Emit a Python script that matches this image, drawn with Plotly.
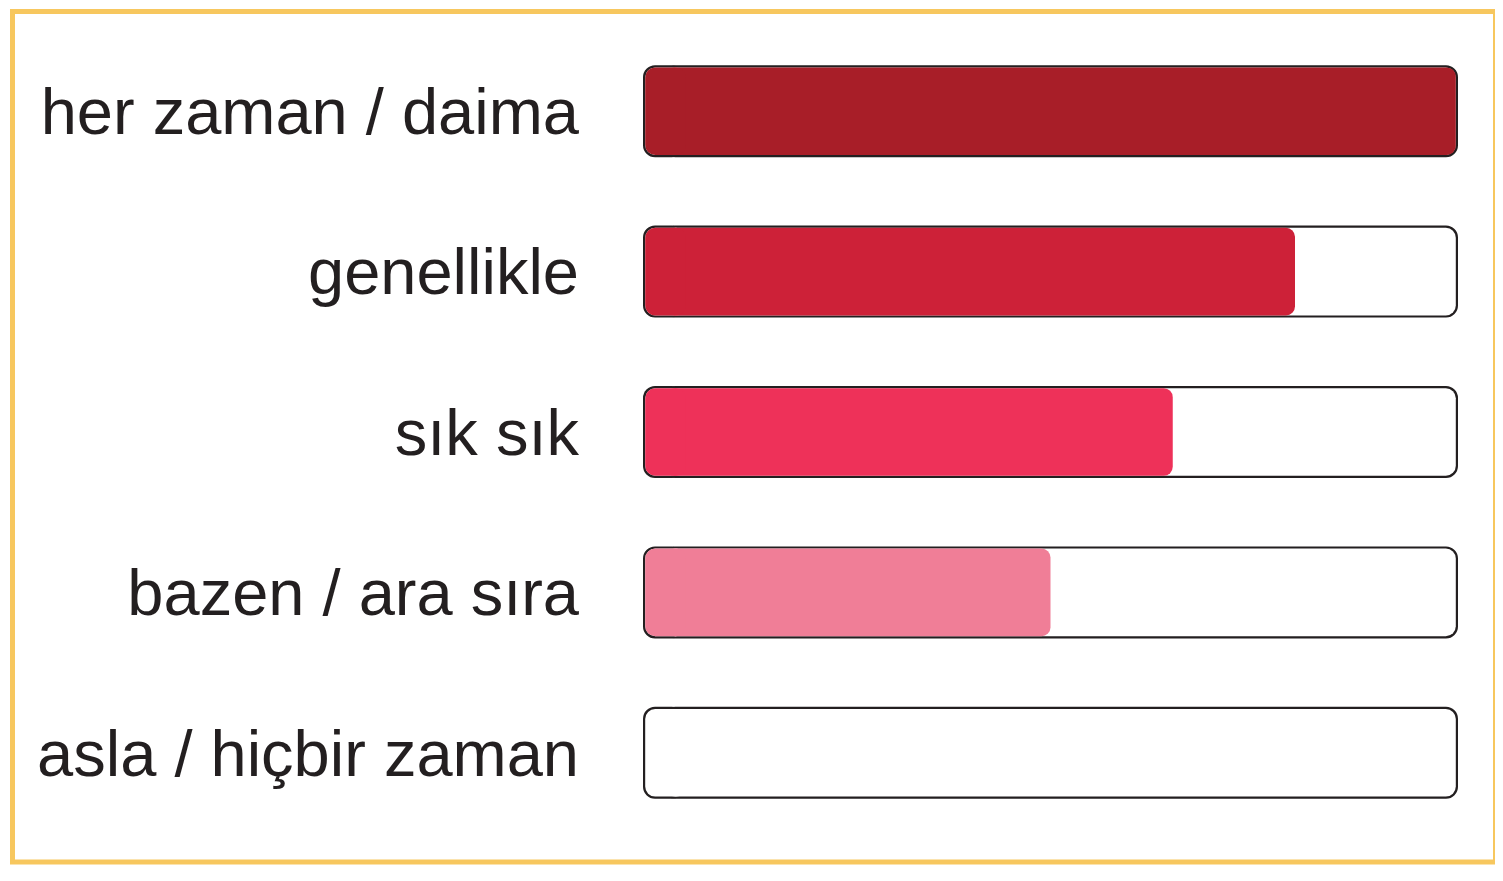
import plotly.graph_objects as go

# ---- data ----
categories = ["her zaman / daima", "genellikle", "sık sık", "bazen / ara sıra", "asla / hiçbir zaman"]
values = [100, 80, 65, 50, 0]
fill_colors = ["#A81E28", "#CD2138", "#EE3159", "#F07E97", "#F07E97"]
scale_max = 100

# ---- style ----
OFF = 8                            # default page margin of the html body
W, H = 1503 - OFF, 881 - OFF
ML, MR, MT, MB = 643 - OFF, 45, 31 - OFF, 48
plot_w = W - ML - MR
plot_h = H - MT - MB
px = scale_max / plot_w            # data units per pixel on x
stroke = 2.2                       # outline thickness in px
d = stroke * px                    # inset in data units
cap = 5.0                          # length of the rounded left cap (data units)
outer_w = 92 / (plot_h / 5)
inner_w = (92 - 2 * stroke) / (plot_h / 5)
OUTLINE = "#231F20"

fig = go.Figure()

def add_pair(start, end, color, width, r_end, r_start, name):
    """Bar from start to end with rounded corners on both ends (main + cap)."""
    bases_main, lens_main, bases_cap, lens_cap = [], [], [], []
    for s, e in zip(start, end):
        if e is None or e <= s:
            bases_main.append(None); lens_main.append(None)
            bases_cap.append(None); lens_cap.append(None)
            continue
        c = min(cap, (e - s) / 2)
        bases_main.append(s + c / 2); lens_main.append(e - (s + c / 2))
        bases_cap.append(s + c); lens_cap.append(-c)
    fig.add_trace(go.Bar(y=categories, x=lens_main, base=bases_main, orientation="h",
                         width=width, marker=dict(color=color, line=dict(width=0), cornerradius=r_end),
                         hoverinfo="skip", showlegend=False, name=name))
    fig.add_trace(go.Bar(y=categories, x=lens_cap, base=bases_cap, orientation="h",
                         width=width, marker=dict(color=color, line=dict(width=0), cornerradius=r_start),
                         hoverinfo="skip", showlegend=False, name=name + " cap"))

n = len(categories)
# outline (dark), white interior, then coloured fill
add_pair([0] * n, [scale_max] * n, OUTLINE, outer_w, 12, 12, "outline")
add_pair([d] * n, [scale_max - d] * n, "#FFFFFF", inner_w, 10, 10, "track")
add_pair([d] * n, [min(v, scale_max - d) if v > 0 else None for v in values],
         fill_colors, inner_w, 9, 10, "value")

fig.update_layout(
    width=W, height=H,
    margin=dict(l=ML, r=MR, t=MT, b=MB, autoexpand=False),
    paper_bgcolor="white", plot_bgcolor="white",
    barmode="overlay",
    xaxis=dict(range=[0, scale_max], showgrid=False, zeroline=False, showticklabels=False,
               showline=False, ticks="", fixedrange=True),
    yaxis=dict(type="category", categoryorder="array", categoryarray=categories,
               range=[len(categories) - 0.5, -0.5], showgrid=False, zeroline=False,
               showline=False, ticks="", ticklabelstandoff=63, automargin=False,
               tickfont=dict(family="Liberation Sans, Arial, sans-serif", size=65, color=OUTLINE)),
    shapes=[dict(type="rect", xref="paper", yref="paper",
                 x0=(12.5 - OFF - ML) / plot_w, x1=(1495.5 - OFF - ML) / plot_w,
                 y0=(H - MB - (862 - OFF)) / plot_h, y1=(H - MB - (11.5 - OFF)) / plot_h,
                 line=dict(color="#F7C75E", width=5), fillcolor="rgba(0,0,0,0)", layer="below")],
)

fig.write_html("out.html")
